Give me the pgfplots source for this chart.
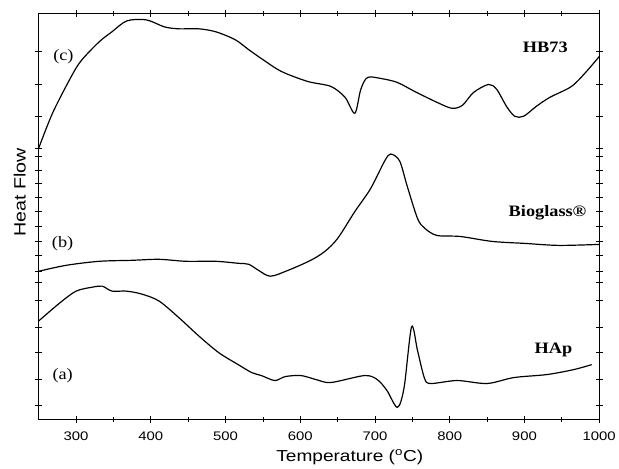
\documentclass[border=0pt]{standalone}
\usepackage{fontspec}
\setmainfont{Liberation Serif}[FakeStretch=1.15]
\newfontfamily\arialx{Liberation Sans}[FakeStretch=1.2]
\usepackage{pgfplots}
\pgfplotsset{compat=1.18}
\begin{document}
\begin{tikzpicture}
\begin{axis}[
  scale only axis, width=564pt, height=408pt,
  xmin=250, xmax=1000, ymin=45, ymax=453,
  xtick={300,400,...,1000}, minor x tick num=1,
  ytick={415,382,350,318,310,296,282,268,254,239,224,210,194,183,165,138,112,85,59},
  yticklabels={},
  tick align=center, major tick length=7pt, minor tick length=5pt,
  axis line style={line width=0.9pt},
  every tick/.style={black, line width=0.7pt},
  /pgf/number format/assume math mode=true,
  /pgf/number format/1000 sep={},
  xticklabel style={font=\arialx\fontsize{12.5}{14}\selectfont, yshift=-6pt},
  clip=false,
]
\addplot[black, line width=1.2pt, smooth, tension=0.5] coordinates {
(250,318) (269,354) (295,392) (308,407) (331,425) (348,435) (368,446) (394,447)
(418,440) (437,438) (464,438) (487,435) (513,427) (531,417) (550,407) (575,395)
(610,385) (641,380) (660,369) (673,353) (681,377) (690,389) (708,388) (730,384)
(753,375) (783,364) (803,358) (817,361) (832,374) (852,382)
(863,377) (876,360) (887,350) (899,350) (916,360) (934,369) (963,380) (983,395) (1000,410)
};
\addplot[black, line width=1.2pt, smooth, tension=0.5] coordinates {
(250,194) (287,200) (331,204) (375,205) (411,206) (447,204) (487,204) (517,202)
(531,201) (544,195) (560,189) (584,195) (614,205) (633,214) (650,227) (673,254)
(694,277) (713,305) (721,312) (733,305) (743,280) (757,247) (767,237) (783,230)
(814,229) (857,224) (901,222) (946,220) (1000,221)
};
\addplot[black, line width=1.2pt, smooth, tension=0.5] coordinates {
(250,144) (278,162) (300,174) (322,178) (335,179) (348,174) (367,174) (388,171)
(411,164) (438,147) (464,129) (491,112) (517,100) (535,92) (548,89)
(566,84) (580,88) (601,89) (621,85) (641,82) (686,89) (703,85) (716,74) (730,57)
(739,77) (749,138) (757,114) (766,87) (774,81) (810,84) (850,81) (886,87) (930,90)
(966,95) (990,100)
};
\node[font=\fontsize{16}{18}\selectfont] at (axis cs:283,410) {(c)};
\node[font=\fontsize{16}{18}\selectfont] at (axis cs:282,222) {(b)};
\node[font=\fontsize{16}{18}\selectfont] at (axis cs:282,89) {(a)};
\node[font=\bfseries\fontsize{16}{18}\selectfont] at (axis cs:928,419) {HB73};
\node[font=\bfseries\fontsize{16}{18}\selectfont] at (axis cs:931,253) {Bioglass®};
\node[font=\bfseries\fontsize{16}{18}\selectfont] at (axis cs:939,115) {HAp};
\node[font=\arialx\fontsize{16}{18}\selectfont, anchor=base] at (rel axis cs:0.555,-0.105) {Temperature (\textsuperscript{o}C)};
\node[font=\arialx\fontsize{16.5}{18}\selectfont, rotate=90] at (rel axis cs:-0.034,0.559) {Heat Flow};
\end{axis}
\path (current axis.south west) ++(-39pt,-45pt) rectangle ++(619pt,467pt);
\end{tikzpicture}
\end{document}
